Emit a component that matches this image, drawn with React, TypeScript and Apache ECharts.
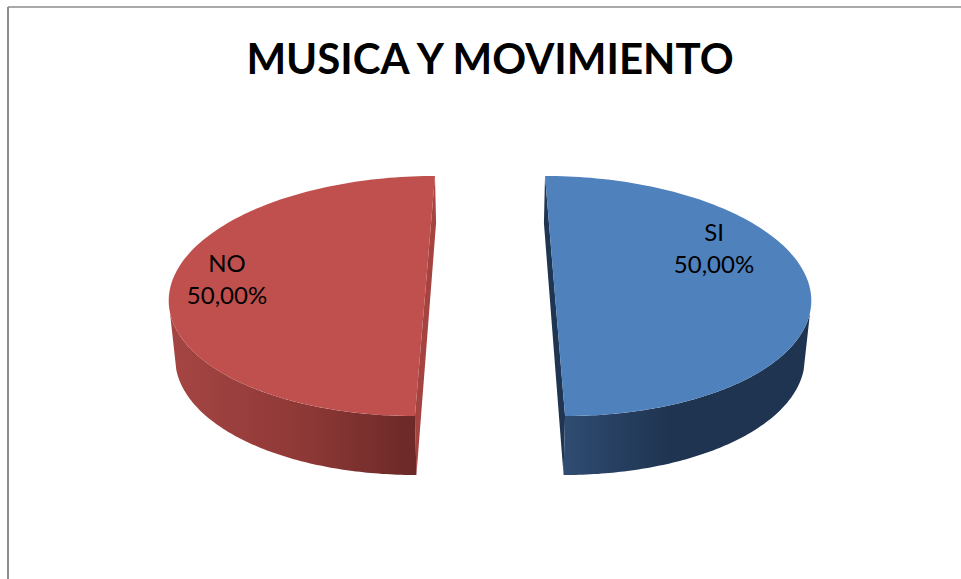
import React, { useEffect, useRef } from "react";
import * as echarts from "echarts";

const titleText = "MUSICA Y MOVIMIENTO";
const categories = ["SI", "NO"];
const values = [50, 50];
const topColors = ["#4F81BD", "#C0504D"];
const innerColors = ["#1F3552", "#A54340"];
const sideStops = [
  [[563, "#2F4C72"], [670, "#1F3450"], [811, "#1F3450"]],
  [[169, "#A54543"], [300, "#8F3937"], [417, "#6A2927"]],
] as [number, string][][];
const labelAnchors = [[714, 247], [227, 278]];

const CX = 490, Y0 = 277.5, K = 761, DEPTH = 0.154;
const RX = 253, EXPLODE = 63.5, BOTTOM_SHRINK = 0.98;
const H_FAR = 47, H_MID = 57, H_NEAR = 59;
const WALL_START_COS = -0.28;
const FONT = "Lato";

function wallHeight(c: number) {
  // c = cos(angle): 1 at the far rim, -1 at the near rim
  return c >= 0 ? H_MID + (H_FAR - H_MID) * c : H_MID + (H_MID - H_NEAR) * c;
}

function project(a: number, ex: number, bottom: boolean) {
  const X = ex + RX * Math.sin(a);
  const Y = DEPTH * Math.cos(a);
  const s = 1 / (1 + Y);
  const x = CX + X * s * (bottom ? BOTTOM_SHRINK : 1);
  const y = Y0 - K * Y * s + (bottom ? wallHeight(Math.cos(a)) : 0);
  return [x, y];
}

function arc(a0: number, a1: number, ex: number) {
  const pts: number[][] = [];
  const n = 120;
  for (let i = 0; i <= n; i++) pts.push(project(a0 + ((a1 - a0) * i) / n, ex, false));
  return pts;
}

export default function App() {
  const ref = useRef<HTMLDivElement>(null);
  useEffect(() => {
    const chart = echarts.init(ref.current!, undefined, { renderer: "svg" });
    const total = values.reduce((p, v) => p + v, 0);
    const starts = values.map((_, i) => values.slice(0, i).reduce((p, v) => p + v, 0));
    chart.setOption({
      animation: false,
      backgroundColor: "#FFFFFF",
      title: {
        text: titleText,
        left: 485,
        top: 32,
        textAlign: "center",
        textStyle: { fontFamily: FONT, fontWeight: "bold", fontSize: 42, color: "#000000" },
      },
      graphic: [
        { type: "line", shape: { x1: 8, y1: 7, x2: 961, y2: 7 }, style: { stroke: "#8C8C8C", lineWidth: 1.5 } },
        { type: "line", shape: { x1: 8, y1: 7, x2: 8, y2: 579 }, style: { stroke: "#8C8C8C", lineWidth: 2 } },
      ],
      series: [
        {
          type: "custom",
          coordinateSystem: "none",
          data: values.map((v, i) => ({ name: categories[i], value: v })),
          renderItem: (params: any, api: any) => {
            const i = params.dataIndex;
            const v = api.value(0);
            const a0 = (starts[i] / total) * Math.PI * 2;
            const a1 = ((starts[i] + v) / total) * Math.PI * 2;
            const ex = EXPLODE * Math.sin((a0 + a1) / 2);
            const inner = [
              project(a0, ex, false), project(a1, ex, false),
              project(a1, ex, true), project(a0, ex, true),
            ];
            const front: number[] = [];
            for (let k = 0; k <= 240; k++) {
              const a = a0 + ((a1 - a0) * k) / 240;
              if (Math.cos(a) < WALL_START_COS) front.push(a);
            }
            const wallTop = front.map((a) => project(a, ex, false));
            const wallBottom = front.map((a) => project(a, ex, true)).reverse();
            const stops = sideStops[i];
            const x0 = stops[0][0];
            const x1 = stops[stops.length - 1][0];
            const pct = ((v / total) * 100).toFixed(2).replace(".", ",") + "%";
            return {
              type: "group",
              children: [
                { type: "polygon", shape: { points: inner }, style: { fill: innerColors[i] } },
                {
                  type: "polygon",
                  shape: { points: [...wallTop, ...wallBottom] },
                  style: {
                    fill: new echarts.graphic.LinearGradient(
                      x0, 0, x1, 0,
                      stops.map(([x, c]) => ({ offset: (x - x0) / (x1 - x0), color: c })),
                      true,
                    ),
                  },
                },
                { type: "polygon", shape: { points: arc(a0, a1, ex) }, style: { fill: topColors[i] } },
                {
                  type: "text",
                  style: {
                    text: `${categories[i]}\n${pct}`,
                    x: labelAnchors[i][0],
                    y: labelAnchors[i][1],
                    align: "center",
                    verticalAlign: "middle",
                    fontFamily: FONT,
                    fontSize: 24,
                    lineHeight: 32,
                    fill: "#000000",
                  },
                },
              ],
            };
          },
        },
      ],
    });
    return () => chart.dispose();
  }, []);
  return <div ref={ref} style={{ position: "fixed", left: 0, top: 0, width: 961, height: 579 }} />;
}
